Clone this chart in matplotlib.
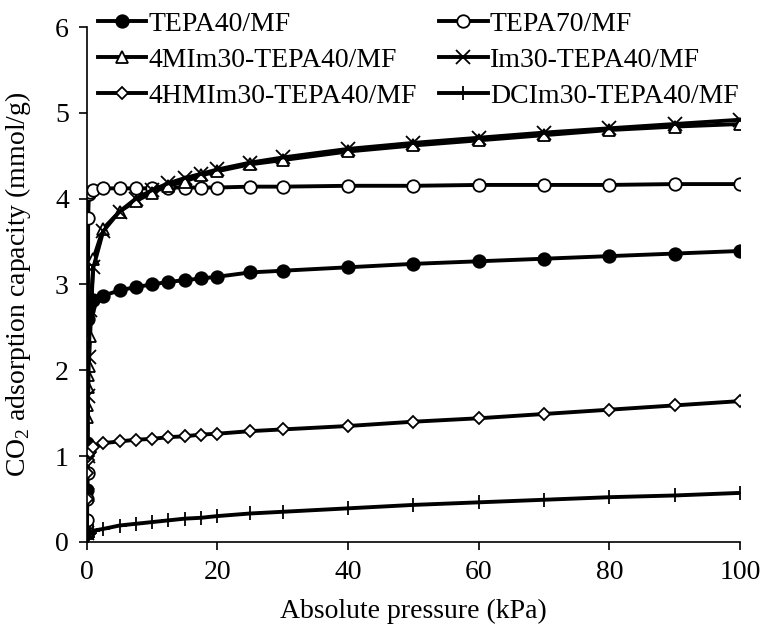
import numpy as np
import matplotlib.pyplot as plt

plt.rcParams['font.family'] = ['Liberation Serif', 'DejaVu Serif']
plt.rcParams['mathtext.fontset'] = 'custom'
plt.rcParams['mathtext.rm'] = 'Liberation Serif'

# pressure points (kPa)
p_low = [0.02, 0.05, 0.1, 0.2, 0.3, 0.5]
p_high = [1, 2.5, 5, 7.5, 10, 12.5, 15, 17.5, 20, 25, 30, 40, 50, 60, 70, 80, 90, 100]
pressure = p_low + p_high

tepa40 = [0.6, 1.15, 2.6, 2.7, 2.75, 2.8,
          2.82, 2.87, 2.93, 2.97, 3.0, 3.03, 3.05, 3.07, 3.09, 3.14, 3.16, 3.2,
          3.24, 3.27, 3.3, 3.33, 3.36, 3.39]
tepa70 = [0.25, 0.5, 0.8, 3.78, 4.05, 4.08,
          4.1, 4.12, 4.12, 4.12, 4.12, 4.13, 4.13, 4.13, 4.13, 4.14, 4.14, 4.15,
          4.15, 4.16, 4.16, 4.16, 4.17, 4.17]
mim4 = [1.45, 1.6, 1.8, 1.95, 2.05, 2.4,
        3.3, 3.65, 3.85, 3.97, 4.07, 4.15, 4.2, 4.27, 4.32, 4.4, 4.45, 4.55,
        4.62, 4.68, 4.74, 4.8, 4.84, 4.87]
im30 = [0.1, 0.55, 1.0, 1.7, 2.15, 2.7,
        3.2, 3.62, 3.85, 4.0, 4.1, 4.18, 4.24, 4.29, 4.34, 4.42, 4.48, 4.58,
        4.65, 4.71, 4.77, 4.82, 4.87, 4.92]
hmim4 = [0.5, 0.8, 0.95, 1.0, 1.03, 1.05,
         1.1, 1.15, 1.17, 1.19, 1.2, 1.22, 1.23, 1.25, 1.26, 1.29, 1.31, 1.35,
         1.4, 1.44, 1.49, 1.54, 1.59, 1.64]
dcim = [0.03, 0.05, 0.06, 0.08, 0.09, 0.1,
        0.13, 0.15, 0.19, 0.21, 0.23, 0.25, 0.27, 0.28, 0.3, 0.33, 0.35, 0.39,
        0.43, 0.46, 0.49, 0.52, 0.54, 0.57]

series = [
    ('TEPA40/MF', tepa40, 'o', 'black'),
    ('TEPA70/MF', tepa70, 'o', 'white'),
    ('4MIm30-TEPA40/MF', mim4, '^', 'white'),
    ('Im30-TEPA40/MF', im30, 'x', 'black'),
    ('4HMIm30-TEPA40/MF', hmim4, 'D', 'white'),
    ('DCIm30-TEPA40/MF', dcim, '+', 'black'),
]

fig = plt.figure(figsize=(7.62, 6.30), dpi=100)
ax = fig.add_axes([0.114, 0.140, 0.857, 0.817])

handles = []
for name, vals, m, fc in series:
    ms = 9
    if m == 'D':
        ms = 6.5
    elif m in ('x', '+'):
        ms = 10
    h, = ax.plot(pressure, vals, color='black', lw=2.8, marker=m, markersize=ms,
                 markerfacecolor=fc, markeredgecolor='black', markeredgewidth=1.3,
                 label=name)
    handles.append(h)

ax.set_xlim(0, 100)
ax.set_ylim(0, 6)
ax.set_xticks(np.arange(0, 101, 20))
ax.set_yticks(np.arange(0, 7, 1))
ax.spines['top'].set_visible(False)
ax.spines['right'].set_visible(False)
ax.spines['left'].set_linewidth(1.2)
ax.spines['bottom'].set_linewidth(1.2)
ax.tick_params(direction='out', length=6, width=1.2, labelsize=20, pad=7)

ax.set_xlabel('Absolute pressure (kPa)', fontsize=20, labelpad=10)
ax.set_ylabel('CO$_2$ adsorption capacity (mmol/g)', fontsize=20, labelpad=16)

# legend is filled row by row in the reference
order = [0, 2, 4, 1, 3, 5]
leg = ax.legend([handles[i] for i in order], [series[i][0] for i in order],
                loc='upper left', bbox_to_anchor=(0.128, 0.982), bbox_transform=fig.transFigure,
                ncol=2, frameon=False, fontsize=20, handlelength=1.75,
                handletextpad=0.08, columnspacing=0.8, labelspacing=0.38,
                borderaxespad=0.0, borderpad=0.0)

fig.savefig('out.png', dpi=100)
